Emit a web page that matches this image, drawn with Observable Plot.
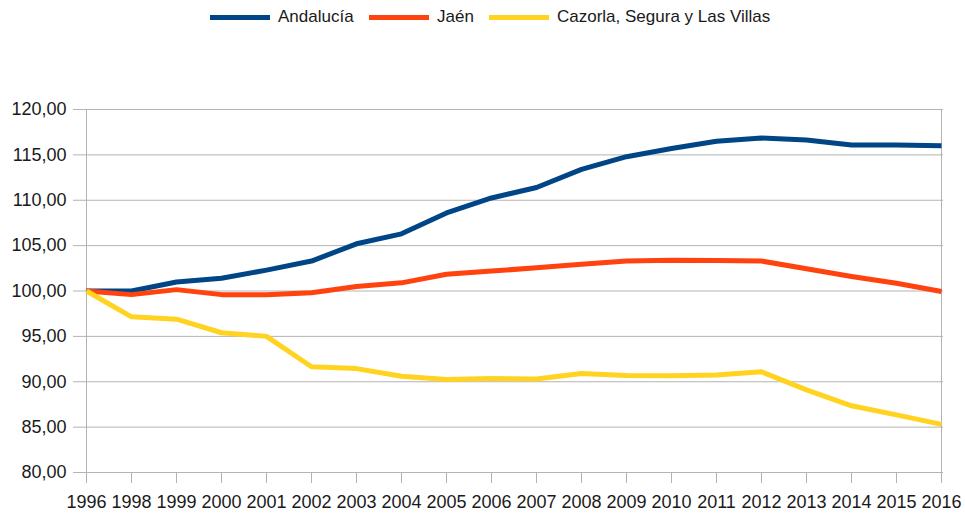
<!DOCTYPE html>
<html>
<head>
<meta charset="utf-8">
<script src="https://cdn.jsdelivr.net/npm/d3@7"></script>
<script src="https://cdn.jsdelivr.net/npm/@observablehq/plot@0.6"></script>
<style>
  body { margin: 0; background: #fff; font-family: "Liberation Sans", sans-serif; }
  #legend { height: 34px; position: relative; }
  .item { position: absolute; top: 0; height: 34px; display: flex; align-items: center; font-size: 17px; color: #1a1a1a; }
  .sw { width: 60px; height: 5px; margin-right: 8px; }
</style>
</head>
<body>
<div id="legend"></div>
<div id="chart"></div>
<script>
const years = ["1996","1998","1999","2000","2001","2002","2003","2004","2005","2006","2007","2008","2009","2010","2011","2012","2013","2014","2015","2016"];
const andalucia = [100.0,100.0,101.0,101.4,102.3,103.3,105.2,106.3,108.6,110.25,111.4,113.4,114.8,115.7,116.5,116.85,116.65,116.1,116.1,116.0];
const jaen      = [100.0,99.6,100.15,99.6,99.6,99.8,100.5,100.9,101.85,102.2,102.55,102.95,103.3,103.4,103.35,103.3,102.45,101.6,100.85,99.95];
const cazorla   = [100.0,97.15,96.9,95.4,95.0,91.65,91.45,90.6,90.25,90.35,90.3,90.9,90.7,90.65,90.75,91.1,89.1,87.35,86.35,85.3];
const seriesNames = ["Andalucía","Jaén","Cazorla, Segura y Las Villas"];
const colors = ["#004586","#ff420e","#ffd320"];
const yTicks = [80,85,90,95,100,105,110,115,120];

const values = [andalucia, jaen, cazorla];
const data = seriesNames.flatMap((s, i) => years.map((y, j) => ({year: y, value: values[i][j], series: s})));

// legend
const legendLefts = [210, 369, 489];
const legend = document.getElementById("legend");
seriesNames.forEach((s, i) => {
  const it = document.createElement("div");
  it.className = "item";
  it.style.left = legendLefts[i] + "px";
  const sw = document.createElement("div");
  sw.className = "sw";
  sw.style.background = colors[i];
  it.appendChild(sw);
  const t = document.createElement("span");
  t.textContent = s;
  it.appendChild(t);
  legend.appendChild(it);
});

const fmt = d => d.toFixed(2).replace(".", ",");
const grid = "#b3b3b3";

const chart = Plot.plot({
  width: 965,
  height: 482,
  marginLeft: 84,
  marginRight: 22,
  marginTop: 75,
  marginBottom: 44,
  style: {fontFamily: '"Liberation Sans", sans-serif', fontSize: "18px", color: "#1a1a1a", background: "#fff"},
  x: {type: "point", domain: years, padding: 0, label: null},
  y: {domain: [80, 120], label: null},
  color: {domain: seriesNames, range: colors},
  marks: [
    Plot.gridY(yTicks, {stroke: grid, strokeOpacity: 1}),
    Plot.ruleX([years[0], years[years.length - 1]], {stroke: grid}),
    Plot.ruleY([yTicks[0]], {stroke: grid}),
    Plot.axisY(yTicks, {tickSize: 11, tickPadding: 7, stroke: grid, fill: "#1a1a1a", tickFormat: fmt, fontSize: 18, label: null}),
    Plot.axisX(years, {tickSize: 11, tickPadding: 12, stroke: grid, fill: "#1a1a1a", fontSize: 18, label: null}),
    Plot.line(data, {x: "year", y: "value", z: "series", stroke: "series", strokeWidth: 5, strokeLinejoin: "round", strokeLinecap: "butt"})
  ]
});
document.getElementById("chart").appendChild(chart);
</script>
</body>
</html>
